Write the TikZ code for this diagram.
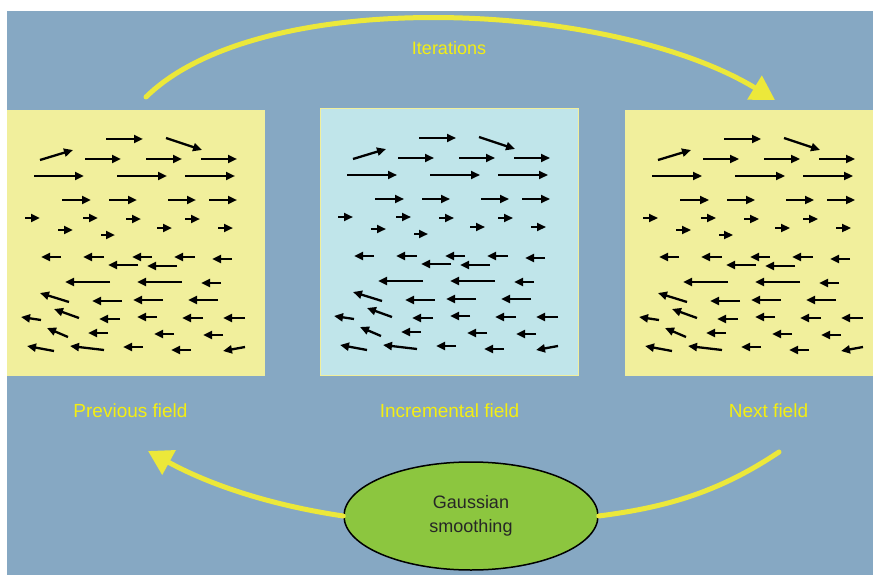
\documentclass[tikz,border=0pt]{standalone}
\usepackage{fontspec}
\setmainfont{Liberation Sans}
\usetikzlibrary{arrows.meta,shapes.geometric}
\definecolor{bgblue}{HTML}{86A8C3}
\definecolor{paleyel}{HTML}{F1EF9C}
\definecolor{paleblue}{HTML}{C0E5EA}
\definecolor{curveyel}{HTML}{ECE83A}
\definecolor{labyel}{HTML}{F4EE12}
\definecolor{gsgreen}{HTML}{8CC63F}
\newcommand{\myfield}{106/139/143/139, 166/138/202/150,
 40/160/73/150, 85/159/121/159, 146/159/182/159, 201/159/237/159,
 34/176/84/176, 117/176/167/176, 185/176/235/176,
 62/200/91/200, 109/200/137/200, 168/200/196/200, 209/200/237/200,
 25/218/40/218, 83/218/98/218, 126/219/141/219, 185/219/200/219,
 58/230/73/230, 157/228/172/228, 218/228/233/228, 101/235/115/235,
 61/257/41/257, 104/257/83/257, 152/257/132/257, 195/257/174/257, 232/259/212/259,
 138/265/108/265, 177/266/147/266,
 110/282/65/282, 182/282/137/282, 221/283/201/283,
 69/302/40/293, 122/301/92/301, 163/300/133/300, 218/300/188/300,
 41/320/21/317, 79/318/54/309, 120/319/99/319, 157/317/137/317, 203/318/182/318, 245/318/223/318,
 68/337/47/328, 108/333/88/333, 174/334/154/334, 223/335/203/335,
 54/351/27/346, 104/350/70/346, 143/347/123/347, 191/350/171/350, 245/347/223/351}
\begin{document}
\begin{tikzpicture}[x=1pt,y=-1pt,
  fa/.style={line width=2.3pt,-{Triangle[length=9pt,width=8pt]}},
  fieldbox/.style={rectangle,minimum height=266pt,inner sep=0pt},
  lab/.style={text=labyel,font=\fontsize{19}{22}\selectfont,inner sep=0pt},
  cv/.style={draw=curveyel,line width=5pt,line cap=round},
  bighead/.style={-{Triangle[length=24pt,width=27pt]}}]
\useasboundingbox (0,0) rectangle (873,575);
\fill[white] (0,0) rectangle (873,575);
\fill[bgblue] (7,11) rectangle (873,575);
% boxes
\node[fieldbox,fill=paleyel,minimum width=258pt] (prev) at (136,243) {};
\node[fieldbox,fill=paleblue,draw=paleyel,line width=1pt,minimum width=258pt] (incr) at (449,242) {};
\node[fieldbox,fill=paleyel,minimum width=248pt] (next) at (749,243) {};
% arrow fields
\foreach \sx/\sy in {0/0, 313/-1, 618/0}{
  \begin{scope}[shift={(\sx,\sy)}]
    \foreach \a/\b/\c/\d in \myfield { \draw[fa] (\a,\b) -- (\c,\d); }
  \end{scope}
}
% labels
\node[lab] (prevlab) at (130.5,411) {Previous field};
\node[lab] (incrlab) at (449.5,411) {Incremental field};
\node[lab] (nextlab) at (768.5,411) {Next field};
\node[lab,font=\fontsize{18}{22}\selectfont] (iterlab) at (449,48) {Iterations};
% ellipse
\node[ellipse,draw=black,line width=1.5pt,fill=gsgreen,minimum width=254pt,minimum height=108pt,
  inner sep=0pt,align=center,text=black!85,font=\fontsize{18}{24}\selectfont] (gs) at (471,516) {Gaussian\\smoothing};
% curves
\coordinate (itstart) at (146,97);
\coordinate (itend) at (775,100);
\coordinate (nf) at (779,452);
\coordinate (pf) at (148,451);
\draw[cv,bighead] (itstart) .. controls (260,-15) and (610,0) .. (itend);
\draw[cv] (nf) .. controls (715,495) and (660,508) .. (gs.east);
\draw[cv,bighead] (gs.west) .. controls (270,505) and (210,485) .. (pf);
\end{tikzpicture}
\end{document}
